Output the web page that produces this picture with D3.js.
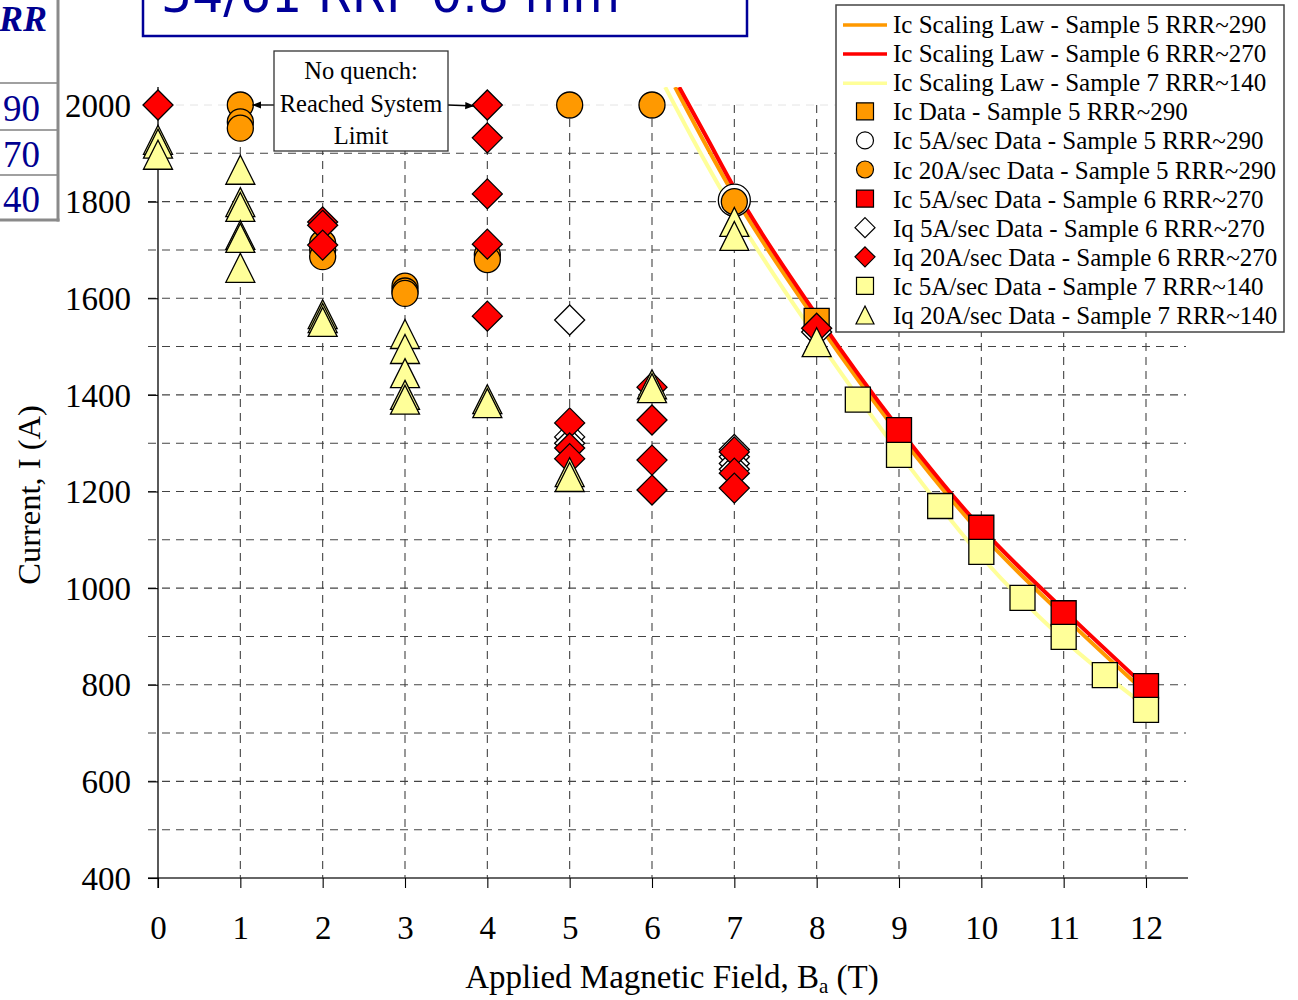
<!DOCTYPE html>
<html>
<head>
<meta charset="utf-8">
<script src="https://cdn.jsdelivr.net/npm/d3@7/dist/d3.min.js"></script>
<style>
  html, body { margin: 0; padding: 0; background: #fff; }
  svg { display: block; }
</style>
</head>
<body>
<svg id="chart" width="1298" height="1000"></svg>
<script>
// ---- data -------------------------------------------------------------
const xTicks = [0, 1, 2, 3, 4, 5, 6, 7, 8, 9, 10, 11, 12];
const yTicks = [400, 600, 800, 1000, 1200, 1400, 1600, 1800, 2000];
const yGrid = [500, 600, 700, 800, 900, 1000, 1100, 1200, 1300, 1400, 1500, 1600, 1700, 1800, 1900];

// Ic scaling law curves [B (T), I (A)]
const lawSample5 = [[6.28, 2037], [6.62, 1928], [7, 1812], [8, 1552], [9, 1318], [10, 1112], [11, 942], [12, 783]];
const lawSample6 = [[6.33, 2037], [6.68, 1928], [7, 1828], [8, 1565], [9, 1330], [10, 1124], [11, 955], [12, 795]];
const lawSample7 = [[6.16, 2037], [6.50, 1928], [7, 1778], [8, 1518], [9, 1280], [10, 1065], [11, 893], [12, 755]];

// measured points [B (T), I (A)]
const icData5 = [[8, 1553]];
const ic5A5 = [[7, 1803]];
const ic20A5 = [[1, 2000], [1, 1965], [1, 1952], [2, 1714], [2, 1700], [2, 1686], [3, 1625], [3, 1615], [3, 1610],
                [4, 1690], [4, 1680], [5, 2000], [6, 2000], [7, 1800]];
const ic5A6 = [[9, 1327], [10, 1125], [11, 948], [12, 797]];
const iq5A6 = [[5, 1555], [5, 1313], [5, 1300], [7, 1287], [7, 1272], [7, 1258], [7, 1246], [8, 1530]];
const iq20A6 = [[0, 2000], [2, 1758], [2, 1751], [2, 1710], [4, 2000], [4, 1932], [4, 1816], [4, 1712], [4, 1563],
                [5, 1342], [5, 1290], [5, 1268], [6, 1416], [6, 1348], [6, 1265], [6, 1203],
                [7, 1282], [7, 1238], [7, 1207], [8, 1538]];
const ic5A7 = [[8.5, 1390], [9, 1276], [9.5, 1170], [10, 1075], [10.5, 980], [11, 899], [11.5, 820], [12, 748]];
const iq20A7 = [[0, 1928], [0, 1920], [0, 1897], [1, 1866], [1, 1799], [1, 1789], [1, 1731], [1, 1725], [1, 1663],
                [2, 1567], [2, 1559], [2, 1551], [3, 1526], [3, 1495], [3, 1445], [3, 1400], [3, 1390],
                [4, 1391], [4, 1383], [5, 1240], [5, 1230], [6, 1422], [6, 1414], [7, 1758], [7, 1729], [8, 1509]];

const legendLabels = [
  "Ic Scaling Law - Sample 5 RRR~290",
  "Ic Scaling Law - Sample 6 RRR~270",
  "Ic Scaling Law - Sample 7 RRR~140",
  "Ic Data - Sample 5 RRR~290",
  "Ic 5A/sec Data - Sample 5 RRR~290",
  "Ic 20A/sec Data - Sample 5 RRR~290",
  "Ic 5A/sec Data - Sample 6 RRR~270",
  "Iq 5A/sec Data - Sample 6 RRR~270",
  "Iq 20A/sec Data - Sample 6 RRR~270",
  "Ic 5A/sec Data - Sample 7 RRR~140",
  "Iq 20A/sec Data - Sample 7 RRR~140"
];

// side table fragment: header and RRR values as far as they fit on the page
const tableHeader = "RR";
const tableValues = ["90", "70", "40"];
const titleText = "54/61 RRP 0.8 mm";
const noteLines = ["No quench:", "Reached System", "Limit"];

// ---- styling ----------------------------------------------------------
const ORANGE = "#FF9900", RED = "#FF0000", YELLOW = "#FFFF99";
const SERIF = "'Liberation Serif', 'Times New Roman', serif";

const lines = [
  { data: lawSample5, color: ORANGE },
  { data: lawSample6, color: RED },
  { data: lawSample7, color: YELLOW }
];
const markers = [
  { data: icData5, shape: "square", fill: ORANGE, size: 12.5 },
  { data: ic5A5, shape: "circle", fill: "#fff", size: 16 },
  { data: ic20A5, shape: "circle", fill: ORANGE, size: 13 },
  { data: ic5A6, shape: "square", fill: RED, size: 12.5 },
  { data: iq5A6, shape: "diamond", fill: "#fff", size: 15 },
  { data: iq20A6, shape: "diamond", fill: RED, size: 15 },
  { data: ic5A7, shape: "square", fill: YELLOW, size: 12.5 },
  { data: iq20A7, shape: "triangle", fill: YELLOW, size: 14.5 }
];

function shapePath(shape, s) {
  if (shape === "square") return `M${-s},${-s}H${s}V${s}H${-s}Z`;
  if (shape === "diamond") return `M0,${-s}L${s},0L0,${s}L${-s},0Z`;
  if (shape === "triangle") return `M0,${-s}L${s},${s}L${-s},${s}Z`;
  return d3.symbol(d3.symbolCircle, Math.PI * s * s)();
}

// ---- layout -----------------------------------------------------------
const svg = d3.select("#chart");
const x = d3.scaleLinear().domain([0, 12]).range([158, 1146]);
const y = d3.scaleLinear().domain([400, 2000]).range([878, 105]);
const plotTop = 87, plotLeft = 148, plotRight = 1188;

svg.append("defs").append("clipPath").attr("id", "plotClip")
  .append("rect").attr("x", plotLeft).attr("y", plotTop)
  .attr("width", plotRight - plotLeft).attr("height", y(400) - plotTop);

// left table (runs off the page edge)
const table = svg.append("g");
[83, 130, 175].forEach(v => table.append("line").attr("x1", -20).attr("x2", 58).attr("y1", v).attr("y2", v)
  .attr("stroke", "#a0a0a0").attr("stroke-width", 2));
table.append("line").attr("x1", -20).attr("x2", 59.5).attr("y1", 220).attr("y2", 220)
  .attr("stroke", "#8a8a8a").attr("stroke-width", 3);
table.append("line").attr("x1", 58).attr("x2", 58).attr("y1", -5).attr("y2", 221.5)
  .attr("stroke", "#8a8a8a").attr("stroke-width", 3);
table.append("text").attr("x", 47).attr("y", 31).attr("text-anchor", "end")
  .attr("font-family", SERIF).attr("font-size", 36).attr("font-weight", "bold").attr("font-style", "italic")
  .attr("fill", "#000090").text(tableHeader);
tableValues.forEach((t, i) => table.append("text").attr("x", 40).attr("y", 121 + i * 45.5)
  .attr("text-anchor", "end").attr("font-family", SERIF).attr("font-size", 37)
  .attr("fill", "#000090").text(t));

// title box
svg.append("rect").attr("x", 143).attr("y", -20).attr("width", 604).attr("height", 56)
  .attr("fill", "#fff").attr("stroke", "#000099").attr("stroke-width", 2.5);
svg.append("text").attr("x", 161).attr("y", 12).attr("font-family", "'DejaVu Sans', Verdana, sans-serif")
  .attr("font-size", 49).attr("fill", "#000099").text(titleText);

// gridlines
const grid = svg.append("g");
grid.selectAll(".hg").data(yGrid).join("line")
  .attr("x1", plotLeft).attr("x2", 1186).attr("y1", d => y(d)).attr("y2", d => y(d))
  .attr("stroke", "#444").attr("stroke-width", 1.1).attr("stroke-dasharray", "8,6");
grid.append("line").attr("x1", plotLeft).attr("x2", 1186).attr("y1", y(2000)).attr("y2", y(2000))
  .attr("stroke", "#e4e4e4").attr("stroke-width", 1).attr("stroke-dasharray", "8,6");
grid.selectAll(".vg").data(xTicks.slice(1)).join("line")
  .attr("x1", d => x(d)).attr("x2", d => x(d)).attr("y1", y(2000)).attr("y2", y(400))
  .attr("stroke", "#444").attr("stroke-width", 1.1).attr("stroke-dasharray", "8,6");

// axes
const xAxis = d3.axisBottom(x).tickValues(xTicks).tickSize(10).tickPadding(28).tickFormat(d3.format("d"));
const gx = svg.append("g").attr("transform", `translate(0,${y(400)})`).call(xAxis);
gx.select(".domain").attr("d", `M${plotLeft},0H${plotRight}`).attr("stroke", "#333").attr("stroke-width", 1.3);
gx.selectAll(".tick line").attr("stroke", "#000").attr("stroke-width", 1.1);
gx.selectAll(".tick text").attr("font-family", SERIF).attr("font-size", 33).attr("fill", "#000");

const yAxis = d3.axisLeft(y).tickValues(yTicks).tickSize(10).tickPadding(17).tickFormat(d3.format("d"));
const gy = svg.append("g").attr("transform", `translate(${x(0)},0)`).call(yAxis);
gy.select(".domain").attr("d", `M0,${plotTop}V${y(400) + 10}`).attr("stroke", "#000").attr("stroke-width", 1.3);
gy.selectAll(".tick line").attr("stroke", "#000").attr("stroke-width", 1.1);
gy.selectAll(".tick text").attr("font-family", SERIF).attr("font-size", 33).attr("fill", "#000").attr("dy", "0.34em");

// axis titles
const xt = svg.append("text").attr("x", 672).attr("y", 988).attr("text-anchor", "middle")
  .attr("font-family", SERIF).attr("font-size", 33).attr("fill", "#000");
xt.append("tspan").text("Applied Magnetic Field, B");
xt.append("tspan").attr("font-size", 21).attr("dy", 5).text("a");
xt.append("tspan").attr("dy", -5).text(" (T)");
svg.append("text").attr("transform", "translate(40,495) rotate(-90)").attr("text-anchor", "middle")
  .attr("font-family", SERIF).attr("font-size", 32.5).attr("fill", "#000").text("Current, I (A)");

// scaling law curves
const lineGen = d3.line().x(d => x(d[0])).y(d => y(d[1])).curve(d3.curveMonotoneX);
const lg = svg.append("g").attr("clip-path", "url(#plotClip)");
lines.forEach(l => lg.append("path").attr("d", lineGen(l.data)).attr("fill", "none")
  .attr("stroke", l.color).attr("stroke-width", 4));

// data markers
const mg = svg.append("g");
markers.forEach(m => {
  mg.append("g").selectAll("path").data(m.data).join("path")
    .attr("transform", d => `translate(${x(d[0])},${y(d[1])})`)
    .attr("d", shapePath(m.shape, m.size))
    .attr("fill", m.fill).attr("stroke", "#000").attr("stroke-width", 1.3);
});

// annotation box with arrows
const note = svg.append("g");
svg.select("defs").append("marker").attr("id", "arrowHead").attr("viewBox", "0 0 10 10")
  .attr("refX", 10).attr("refY", 5).attr("markerWidth", 7).attr("markerHeight", 7).attr("orient", "auto")
  .append("path").attr("d", "M0,1L10,5L0,9Z").attr("fill", "#000");
note.append("line").attr("x1", 274).attr("y1", y(2000)).attr("x2", x(1) + 12).attr("y2", y(2000))
  .attr("stroke", "#000").attr("stroke-width", 1.3).attr("marker-end", "url(#arrowHead)");
note.append("line").attr("x1", 448).attr("y1", y(2000)).attr("x2", x(4) - 13).attr("y2", y(2000) + 1)
  .attr("stroke", "#000").attr("stroke-width", 1.3).attr("marker-end", "url(#arrowHead)");
note.append("rect").attr("x", 274).attr("y", 51).attr("width", 174).attr("height", 100)
  .attr("fill", "#fff").attr("stroke", "#333").attr("stroke-width", 1.3);
noteLines.forEach((t, i) => note.append("text").attr("x", 361).attr("y", 79 + i * 32.5)
  .attr("text-anchor", "middle").attr("font-family", SERIF).attr("font-size", 24.5).attr("fill", "#000").text(t));

// legend
const leg = svg.append("g");
leg.append("rect").attr("x", 836).attr("y", 5).attr("width", 448).attr("height", 327)
  .attr("fill", "#fff").attr("stroke", "#444").attr("stroke-width", 1.5);
const legendKeys = [...lines.map(l => ({ kind: "line", ...l })), ...markers.map(m => ({ kind: "marker", ...m }))];
legendKeys.forEach((k, i) => {
  const cy = 25 + i * 29.1;
  if (k.kind === "line") {
    leg.append("line").attr("x1", 843).attr("x2", 887).attr("y1", cy).attr("y2", cy)
      .attr("stroke", k.color).attr("stroke-width", 3.5);
  } else {
    const s = k.shape === "diamond" ? 10 : k.shape === "triangle" ? 9 : 8.5;
    leg.append("path").attr("transform", `translate(865,${cy - 1})`).attr("d", shapePath(k.shape, s))
      .attr("fill", k.fill).attr("stroke", "#000").attr("stroke-width", 1.2);
  }
  leg.append("text").attr("x", 893).attr("y", cy + 8).attr("font-family", SERIF).attr("font-size", 25)
    .attr("fill", "#000").text(legendLabels[i]);
});
</script>
</body>
</html>
